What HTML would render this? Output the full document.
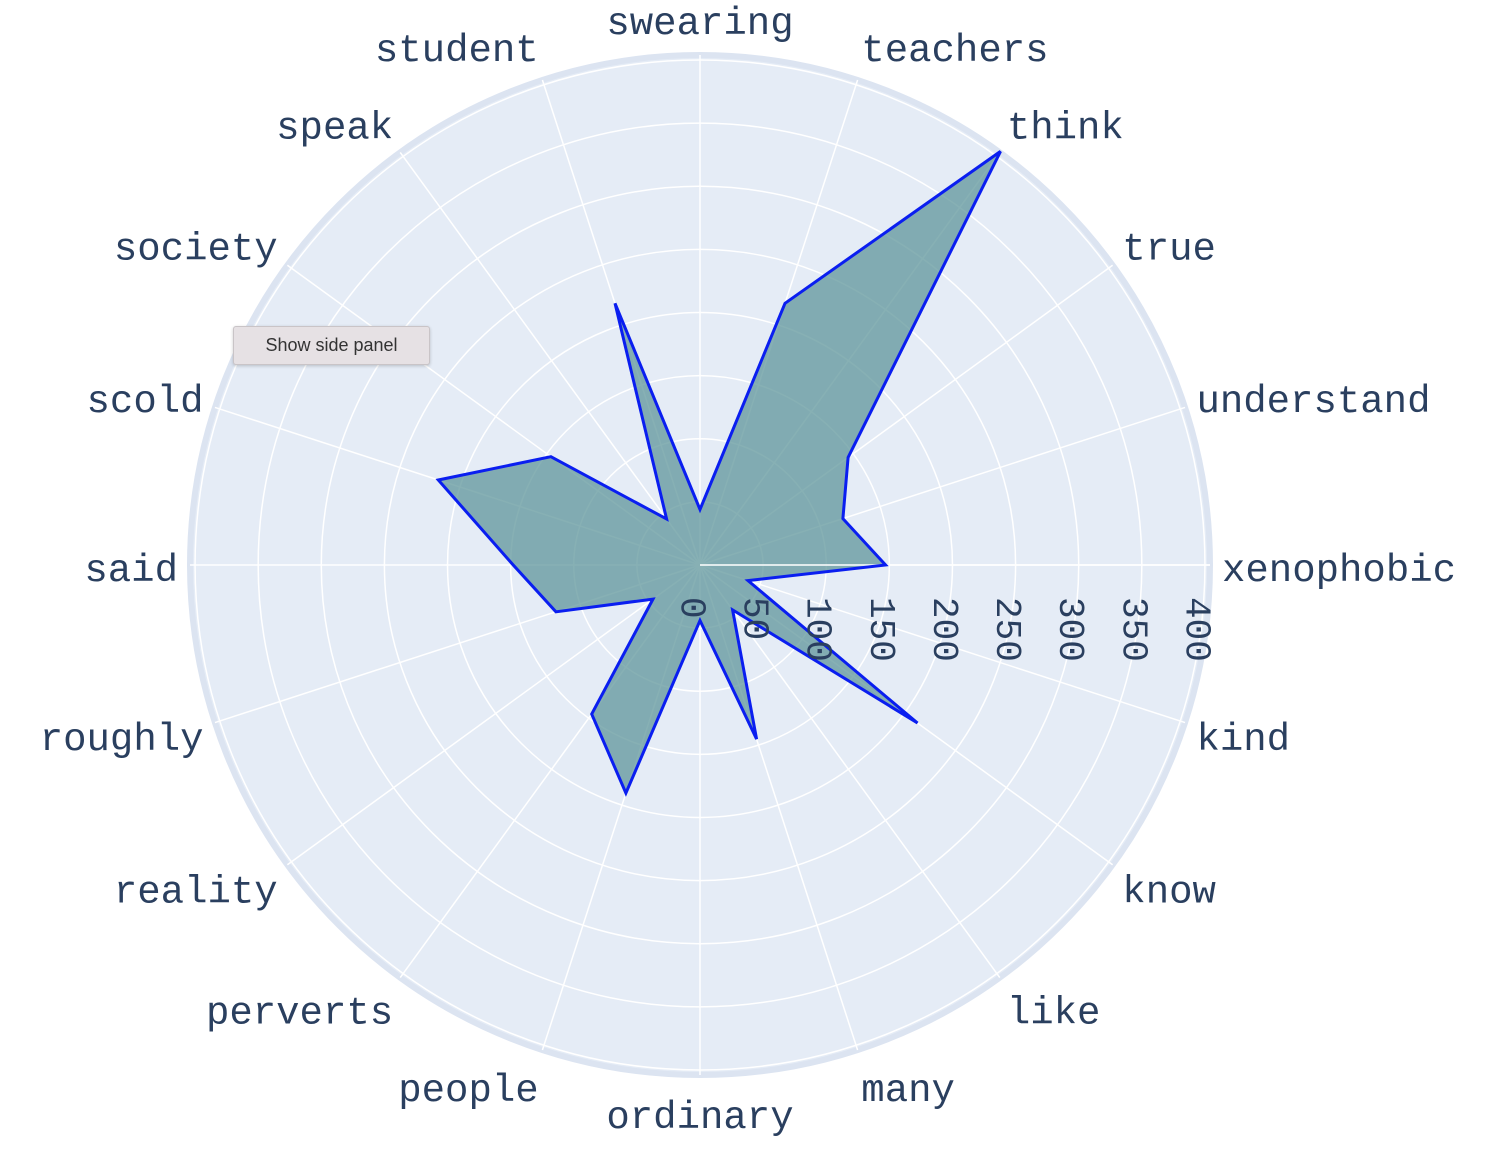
<!DOCTYPE html>
<html><head><meta charset="utf-8"><style>
html,body{margin:0;padding:0;background:#fff;}
#wrap{position:relative;width:1496px;height:1152px;}
svg{position:absolute;left:0;top:0;}
#tip{position:absolute;left:233px;top:326px;width:195px;height:37px;background:#e6e1e4;border:1px solid #c9c4c7;border-radius:3px;font:18px "Liberation Sans",sans-serif;color:#333;line-height:37px;text-align:center;box-shadow:0 1px 3px rgba(0,0,0,0.2);}
</style></head><body>
<div id="wrap">
<svg id="chart" width="1496" height="1152"></svg>
<div id="tip">Show side panel</div>
</div>
<script>
const categories = ["xenophobic","understand","true","think","teachers","swearing","student","speak","society","scold","said","roughly","reality","perverts","people","ordinary","many","like","know","kind"];
const values = [147,119,145,405,218,44,218,45,146,218,148,120,46,146,190,44,145,44,213,40];
const radialTicks = [0,50,100,150,200,250,300,350,400];
const rMax = 404;

const NS = "http://www.w3.org/2000/svg";
const svg = document.getElementById('chart');
const cx = 700, cy = 565, R = 510;
const rScale = v => v / rMax * R;
const angle = i => i * 360 / categories.length * Math.PI / 180;
const px = (v, i) => cx + rScale(v) * Math.cos(angle(i));
const py = (v, i) => cy - rScale(v) * Math.sin(angle(i));
function mk(tag, attrs, parent) {
  const e = document.createElementNS(NS, tag);
  for (const k in attrs) e.setAttribute(k, attrs[k]);
  (parent || svg).appendChild(e);
  return e;
}
const bg = mk('circle', {cx, cy, r: R, fill: '#e5ecf6', stroke: '#dce4f1', 'stroke-width': 6});


radialTicks.forEach(t => {
  if (t === 0) return;
  const c = mk('circle', {cx, cy, r: rScale(t), fill: 'none', stroke: '#fff', 'stroke-width': 1.5});
  
  
});
categories.forEach((c, i) => {
  const l = mk('line', {x1: cx, y1: cy, x2: px(rMax, i), y2: py(rMax, i), stroke: '#fff', 'stroke-width': 1.5});
  
  
});
const pts = values.map((v, i) => px(v, i).toFixed(1) + ',' + py(v, i).toFixed(1)).join(' ');
const fill = mk('polygon', {points: pts, fill: 'rgba(95,150,155,0.75)', stroke: 'none'});


const ax = mk('line', {x1: cx, y1: cy, x2: cx + R, y2: cy, stroke: '#fff', 'stroke-width': 1.5});


const line = mk('polygon', {points: pts, fill: 'none', stroke: '#0a1ef0', 'stroke-width': 3, 'stroke-linejoin': 'miter'});


radialTicks.forEach(t => {
  const x = cx + rScale(t) - 9, y = 597;
  const tx = mk('text', {x, y, transform: `rotate(90 ${x} ${y})`, 'dominant-baseline': 'central', 'font-family': '"Liberation Mono",monospace', 'font-size': 36, fill: '#2a3f5f'});
  tx.textContent = t;
  
  
});
categories.forEach((c, i) => {
  const a = angle(i), co = Math.cos(a), si = Math.sin(a);
  const x = cx + (R + 12) * co, y = cy - (R + 12) * si - si * 25 + 6;
  const anchor = co > 0.1 ? 'start' : (co < -0.1 ? 'end' : 'middle');
  const tx = mk('text', {x, y, 'text-anchor': anchor, 'dominant-baseline': 'central', 'font-family': '"Liberation Mono",monospace', 'font-size': 39, fill: '#2a3f5f'});
  tx.textContent = c;
  
  
});
</script>
</body></html>
